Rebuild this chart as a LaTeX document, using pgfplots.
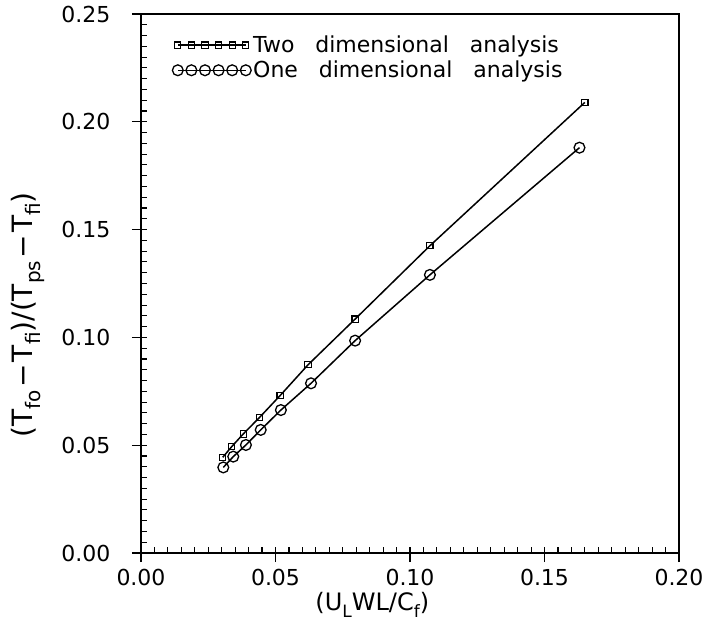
\documentclass[border=0pt]{standalone}
\usepackage{pgfplots}
\pgfplotsset{compat=1.18}
\usepackage{fontspec}
\setmainfont{DejaVu Sans}
\newcommand\bigf{\fontsize{22bp}{26bp}\selectfont}
\newcommand\ylf{\fontsize{28bp}{32bp}\selectfont}
\newcommand\xlf{\fontsize{24bp}{28bp}\selectfont}
\newcommand\ysb[1]{\raisebox{-0.28em}{\fontsize{20bp}{20bp}\selectfont #1}}
\newcommand\xsb[1]{\raisebox{-0.28em}{\fontsize{17bp}{17bp}\selectfont #1}}
\newcommand\mn{\hspace{0.08em}−\hspace{0.08em}}
\begin{document}
\begin{tikzpicture}
\begin{axis}[
  scale only axis, width=538bp, height=539bp,
  xmin=0, xmax=0.2, ymin=0, ymax=0.25,
  xtick={0,0.05,...,0.2}, ytick={0,0.05,...,0.25},
  minor x tick num=9, minor y tick num=9,
  xtick pos=left, ytick pos=left,
  tick align=inside,
  major tick length=6bp, minor tick length=6bp,
  extra x ticks={0,0.05,0.1,0.15,0.2}, extra x tick labels={},
  extra y ticks={0,0.05,0.1,0.15,0.2,0.25}, extra y tick labels={},
  extra x tick style={tick align=outside, major tick length=9bp},
  extra y tick style={tick align=outside, major tick length=9bp},
  every tick/.style={black, line width=1.1bp},
  axis line style={line width=1.4bp},
  /pgf/number format/assume math mode=true,
  tick label style={font=\bigf},
  xticklabel style={yshift=-13bp, /pgf/number format/.cd, fixed, fixed zerofill, precision=2},
  yticklabel style={xshift=-27bp, /pgf/number format/.cd, fixed, fixed zerofill, precision=2},
  scaled ticks=false,
  xlabel={(U\xsb{L}WL/C\xsb{f})},
  ylabel={(T\ysb{fo}\mn T\ysb{fi})/(T\ysb{ps}\mn T\ysb{fi})},
  every axis x label/.style={at={(axis description cs:0.43,-0.0965)}, anchor=center, font=\xlf},
  every axis y label/.style={at={(axis description cs:-0.21,0.442)}, anchor=center, rotate=90, font=\ylf},
  legend style={at={(0.058,0.967)}, anchor=north west, draw=none, fill=none,
    row sep=3bp, font=\bigf, inner xsep=0bp},
  legend cell align=left,
  legend image code/.code={\draw[#1] plot coordinates {(0bp,0bp)(13.6bp,0bp)(27.2bp,0bp)(40.8bp,0bp)(54.4bp,0bp)(68bp,0bp)};},
]
\addplot[black, line width=1.5bp, mark=square, mark size=3.1bp, mark options={line width=1.1bp}] coordinates {
(0.0304,0.0444)(0.0337,0.0493)(0.0380,0.0552)(0.0440,0.0628)(0.0517,0.0730)(0.0621,0.0873)(0.0796,0.1085)(0.1074,0.1425)(0.1650,0.2090)};
\addlegendentry{Two\hspace{0.95em}dimensional\hspace{0.95em}analysis}
\addplot[black, line width=1.5bp, mark=o, mark size=5.4bp, mark options={line width=1.3bp}] coordinates {
(0.0306,0.0397)(0.0343,0.0447)(0.0390,0.0501)(0.0445,0.0571)(0.0520,0.0663)(0.0632,0.0787)(0.0796,0.0985)(0.1074,0.1290)(0.1630,0.1880)};
\addlegendentry{One\hspace{0.95em}dimensional\hspace{0.95em}analysis}
\end{axis}
\pgfresetboundingbox
\path[use as bounding box] ([shift={(-141bp,-79bp)}]current axis.south west) rectangle ([shift={(23bp,14bp)}]current axis.north east);
\end{tikzpicture}
\end{document}
